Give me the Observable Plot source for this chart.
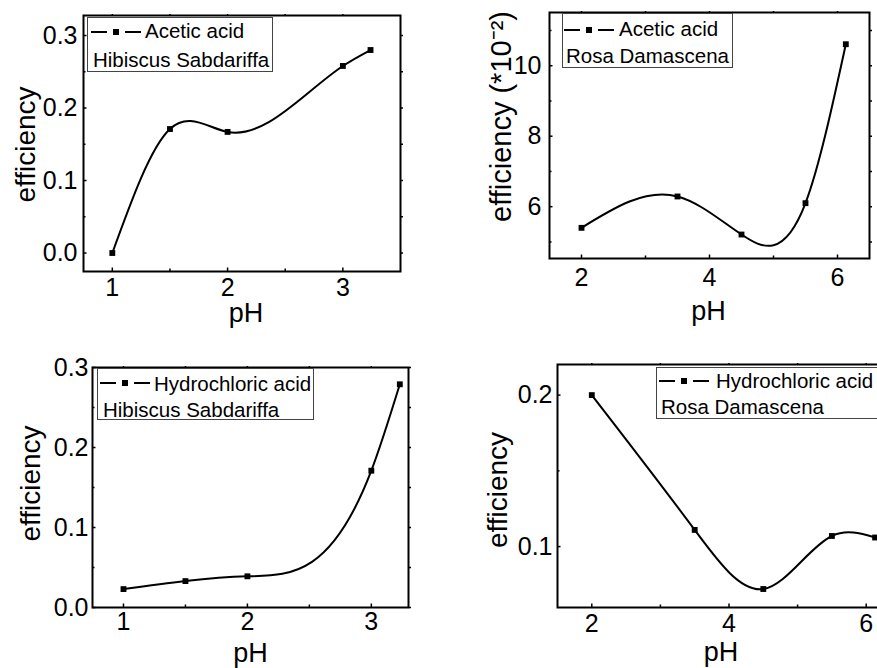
<!DOCTYPE html>
<html>
<head>
<meta charset="utf-8">
<script src="https://cdn.jsdelivr.net/npm/d3@7"></script>
<script src="https://cdn.jsdelivr.net/npm/@observablehq/plot@0.6"></script>
<style>
  html, body { margin: 0; padding: 0; background: #fff; }
  #page { position: relative; width: 877px; height: 668px; overflow: hidden; background: #fff;
          font-family: "Liberation Sans", Arial, sans-serif; color: #000; }
  .panel { position: absolute; }
  .panel svg { max-width: none !important; }
  .legend { position: absolute; box-sizing: border-box; border: 1px solid #444; background: #fff;
            font-size: 20.5px; line-height: 20px; white-space: nowrap; }
  .legend span { position: absolute; }
  .sym { position: absolute; height: 8px; width: 52px; }
  .sym .l { position: absolute; top: 3px; height: 2px; width: 16px; background: #000; }
  .sym .s { position: absolute; top: 1px; left: 22px; width: 6px; height: 6px; background: #000; }
</style>
</head>
<body>
<div id="page"></div>
<script>
// ---------------- data ----------------
const phAceticHS  = [1, 1.5, 2, 3, 3.24];
const effAceticHS = [0.000, 0.171, 0.167, 0.258, 0.280];

const phAceticRD  = [2, 3.5, 4.5, 5.5, 6.13];
const effAceticRD = [5.40, 6.29, 5.21, 6.10, 10.61];   // in units of 10^-2

const phHclHS  = [1, 1.5, 2, 3, 3.23];
const effHclHS = [0.023, 0.033, 0.039, 0.171, 0.279];

const phHclRD  = [2, 3.5, 4.5, 5.5, 6.13];
const effHclRD = [0.200, 0.111, 0.072, 0.107, 0.106];

const ticksX1 = [1, 2, 3], minorX1 = [1.5, 2.5];
const ticksX2 = [2, 4, 6], minorX2 = [3, 5];
const ticksY1 = [0, 0.1, 0.2, 0.3], minorY1 = [0.05, 0.15, 0.25];
const ticksY2 = [6, 8, 10], minorY2 = [5, 7, 9, 11];
const ticksY4 = [0.1, 0.2], minorY4 = [0.15];

const acidLabels  = ["Acetic acid", "Acetic acid", "Hydrochloric acid", "Hydrochloric acid"];
const plantLabels = ["Hibiscus Sabdariffa", "Rosa Damascena", "Hibiscus Sabdariffa", "Rosa Damascena"];
const yLabels = ["efficiency", "efficiency (*10\u207B\u00B2)", "efficiency", "efficiency"];
const xLabel = "pH";

// ---------------- custom curve: cubic spline y(x) (Origin-style "Spline" connect) ----------------
class SplineX {
  constructor(ctx) { this._context = ctx; }
  areaStart() {}
  areaEnd() {}
  lineStart() { this._x = []; this._y = []; }
  point(x, y) { this._x.push(+x); this._y.push(+y); }
  lineEnd() {
    const X = this._x, Y = this._y, n = X.length, c = this._context;
    if (!n) return;
    c.moveTo(X[0], Y[0]);
    if (n === 2) { c.lineTo(X[1], Y[1]); return; }
    const h = [];
    for (let i = 0; i < n - 1; i++) h.push(X[i + 1] - X[i]);
    const a = [], b = [], cc = [], d = [];
    for (let i = 1; i < n - 1; i++) {
      a.push(h[i - 1]); b.push(2 * (h[i - 1] + h[i])); cc.push(h[i]);
      d.push(6 * ((Y[i + 1] - Y[i]) / h[i] - (Y[i] - Y[i - 1]) / h[i - 1]));
    }
    const m = b.length;
    for (let i = 1; i < m; i++) { const w = a[i] / b[i - 1]; b[i] -= w * cc[i - 1]; d[i] -= w * d[i - 1]; }
    const sol = new Array(m);
    sol[m - 1] = d[m - 1] / b[m - 1];
    for (let i = m - 2; i >= 0; i--) sol[i] = (d[i] - cc[i] * sol[i + 1]) / b[i];
    const M = new Array(n).fill(0);
    for (let i = 0; i < m; i++) M[i + 1] = sol[i];
    for (let i = 0; i < n - 1; i++) {
      const s = (Y[i + 1] - Y[i]) / h[i];
      const m0 = s - h[i] * (2 * M[i] + M[i + 1]) / 6;
      const m1 = s + h[i] * (M[i] + 2 * M[i + 1]) / 6;
      c.bezierCurveTo(X[i] + h[i] / 3, Y[i] + m0 * h[i] / 3, X[i + 1] - h[i] / 3, Y[i + 1] - m1 * h[i] / 3, X[i + 1], Y[i + 1]);
    }
  }
}
const curveSplineX = (ctx) => new SplineX(ctx);

// ---------------- drawing ----------------
const page = document.getElementById("page");
const FONT = "'Liberation Sans', Arial, sans-serif";

function panel(c) {
  const data = c.xs.map((x, i) => ({x, y: c.ys[i]}));
  const plot = Plot.plot({
    width: c.width, height: c.height,
    marginLeft: c.ml, marginRight: c.mr, marginTop: c.mt, marginBottom: c.mb,
    style: {fontFamily: FONT, fontSize: "25px", background: "transparent", color: "#000", overflow: "visible", maxWidth: "none"},
    x: {domain: c.xDomain},
    y: {domain: c.yDomain},
    marks: [
      // tick labels
      Plot.axisX(c.xTicks, {anchor: "bottom", tickSize: 0, tickPadding: c.xPad, tickFormat: d3.format("d"), label: null}),
      Plot.axisY(c.yTicks, {anchor: "left", tickSize: 0, tickPadding: c.yPad, tickFormat: c.yFmt, label: null}),
      // inward ticks bottom/left
      Plot.axisX(c.xTicks, {anchor: "bottom", tickSize: -3.5, strokeWidth: 1.5, fill: "none", label: null}),
      Plot.axisX(c.xMinor, {anchor: "bottom", tickSize: -2.5, strokeWidth: 1.5, fill: "none", label: null}),
      Plot.axisY(c.yTicks, {anchor: "left", tickSize: -3.5, strokeWidth: 1.5, fill: "none", label: null}),
      Plot.axisY(c.yMinor, {anchor: "left", tickSize: -2.5, strokeWidth: 1.5, fill: "none", label: null}),
      // small nubs top/right
      Plot.axisX(c.xTicks.concat(c.xMinor), {anchor: "top", tickSize: 2, strokeWidth: 1.5, fill: "none", label: null}),
      Plot.axisY(c.yTicks.concat(c.yMinor), {anchor: "right", tickSize: 2, strokeWidth: 1.5, fill: "none", label: null}),
      // data
      Plot.line(data, {x: "x", y: "y", curve: curveSplineX, stroke: "#000", strokeWidth: 2}),
      Plot.dot(data, {x: "x", y: "y", symbol: "square", fill: "#000", stroke: "none", r: 3.3}),
      Plot.frame({stroke: "#000", strokeWidth: 2}),
      // axis titles
      Plot.text([c.yLabel], {frameAnchor: "left", rotate: -90, lineAnchor: "top", textAnchor: "middle",
                             dx: c.yLabelDx, dy: c.yLabelDy, fontSize: c.yLabelSize || 28}),
      Plot.text([xLabel], {frameAnchor: "bottom", lineAnchor: "top", textAnchor: "middle",
                           dx: c.xLabelDx, dy: c.xLabelDy, fontSize: 27})
    ]
  });
  const div = document.createElement("div");
  div.className = "panel";
  div.style.left = c.left + "px";
  div.style.top = c.top + "px";
  div.style.width = c.width + "px";
  div.style.height = c.height + "px";
  div.appendChild(plot);
  page.appendChild(div);

  // legend box
  const L = c.legend;
  const lg = document.createElement("div");
  lg.className = "legend";
  Object.assign(lg.style, {left: L.left + "px", top: L.top + "px", width: L.width + "px", height: L.height + "px"});
  lg.innerHTML =
    `<div class="sym" style="left:${L.symX}px;top:${L.symY - 4}px">` +
      `<div class="l" style="left:0"></div><div class="s"></div><div class="l" style="left:34px"></div></div>` +
    `<span style="left:${L.textX}px;top:${L.base1 - 17}px">${c.acid}</span>` +
    `<span style="left:${L.text2X}px;top:${L.base2 - 17}px">${c.plant}</span>`;
  page.appendChild(lg);
}

// top-left
panel({
  xs: phAceticHS, ys: effAceticHS, acid: acidLabels[0], plant: plantLabels[0], yLabel: yLabels[0],
  left: 0, top: 0, width: 430, height: 335, ml: 83, mr: 30, mt: 15, mb: 64,
  xDomain: [0.75, 3.5], yDomain: [-0.0255, 0.3276],
  xTicks: ticksX1, xMinor: minorX1, yTicks: ticksY1, yMinor: minorY1, yFmt: d3.format(".1f"),
  xPad: 7, yPad: 6, yLabelDx: -68, yLabelDy: 1, xLabelDx: 4, xLabelDy: 31,
  legend: {left: 87, top: 17, width: 186, height: 55, symX: 3, symY: 14, textX: 57, base1: 20, text2X: 5, base2: 49}
});

// top-right
panel({
  xs: phAceticRD, ys: effAceticRD, acid: acidLabels[1], plant: plantLabels[1], yLabel: yLabels[1],
  left: 440, top: 0, width: 437, height: 335, ml: 109, mr: 8, mt: 12, mb: 77,
  xDomain: [1.5, 6.5], yDomain: [4.53, 11.51],
  xTicks: ticksX2, xMinor: minorX2, yTicks: ticksY2, yMinor: minorY2, yFmt: d3.format("d"),
  xPad: 10, yPad: 8, yLabelDx: -59, yLabelDy: -19, yLabelSize: 29, xLabelDx: -1, xLabelDy: 42,
  legend: {left: 562, top: 13, width: 171, height: 55, symX: 1, symY: 16, textX: 56, base1: 22, text2X: 3, base2: 49}
});

// bottom-left
panel({
  xs: phHclHS, ys: effHclHS, acid: acidLabels[2], plant: plantLabels[2], yLabel: yLabels[2],
  left: 0, top: 335, width: 430, height: 333, ml: 92, mr: 22, mt: 32, mb: 61,
  xDomain: [0.75, 3.3], yDomain: [0, 0.3],
  xTicks: ticksX1, xMinor: minorX1, yTicks: ticksY1, yMinor: minorY1, yFmt: d3.format(".1f"),
  xPad: 5, yPad: 4, yLabelDx: -72, yLabelDy: -4, xLabelDx: 0, xLabelDy: 35,
  legend: {left: 97, top: 368, width: 217, height: 52, symX: 2, symY: 14, textX: 56, base1: 22, text2X: 5, base2: 48}
});

// bottom-right
panel({
  xs: phHclRD, ys: effHclRD, acid: acidLabels[3], plant: plantLabels[3], yLabel: yLabels[3],
  left: 440, top: 335, width: 470, height: 333, ml: 117, mr: 10, mt: 29, mb: 61,
  xDomain: [1.5, 6.5], yDomain: [0.0598, 0.2202],
  xTicks: ticksX2, xMinor: minorX2, yTicks: ticksY4, yMinor: minorY4, yFmt: d3.format(".1f"),
  xPad: 7, yPad: 5, yLabelDx: -70, yLabelDy: 4, xLabelDx: -8, xLabelDy: 34,
  legend: {left: 656, top: 367, width: 240, height: 52, symX: 2, symY: 13, textX: 59, base1: 20, text2X: 4, base2: 46}
});
</script>
</body>
</html>
